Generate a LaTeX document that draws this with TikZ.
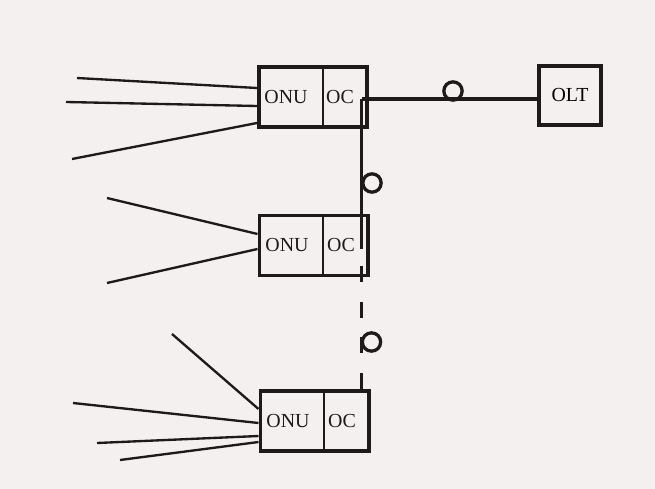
\documentclass[tikz,border=0pt]{standalone}
\usepackage{fontspec}
\setmainfont{Liberation Serif}
\usetikzlibrary{calc}
\definecolor{carta}{RGB}{244,240,240}
\definecolor{inchiostro}{RGB}{30,26,26}
\tikzset{
	unita/.style={draw=inchiostro,line width=3.4pt,minimum width=3.24cm,minimum height=1.8cm,inner sep=0pt},
	terminale/.style={draw=inchiostro,line width=3.4pt,minimum width=1.86cm,minimum height=1.77cm,inner sep=0pt,font=\fontsize{17}{20}\selectfont},
	etichetta/.style={inner sep=0pt,text=inchiostro,font=\fontsize{17}{20}\selectfont},
	anello/.style={circle,draw=inchiostro,line width=2.8pt,minimum size=0.55cm,inner sep=0pt},
	filo/.style={draw=inchiostro,line width=2pt},
	fibra/.style={draw=inchiostro,line width=3pt}
}
\begin{document}
\begin{tikzpicture}[x=0.03cm,y=-0.03cm]
	\fill[carta] (0,0) rectangle (655,489);
	\useasboundingbox (0,0) rectangle (655,489);

	% Le tre unita' ONU/OC
	\node[unita] (u1) at (313,97) {};
	\node[unita] (u2) at (313.5,245.5) {};
	\node[unita] (u3) at (314.5,421) {};
	\draw[inchiostro,line width=1.7pt] (322.5,0 |- u1.north) -- (322.5,0 |- u1.south); % divisore
	\draw[inchiostro,line width=1.7pt] (323,0 |- u2.north) -- (323,0 |- u2.south);
	\draw[inchiostro,line width=1.7pt] (323.5,0 |- u3.north) -- (323.5,0 |- u3.south);
	\node[etichetta] (onu1) at (286,97) {ONU};
	\node[etichetta] (oc1) at (340,97) {OC};
	\node[etichetta] (onu2) at (287,245) {ONU};
	\node[etichetta] (oc2) at (341,245) {OC};
	\node[etichetta] (onu3) at (288,421) {ONU};
	\node[etichetta] (oc3) at (342,421) {OC};

	% Terminale di linea
	\node[terminale] (olt) at (570,95.5) {OLT};

	% Fibra principale e derivazione verticale
	\coordinate (giunto) at (361.5,99);
	\draw[fibra] (giunto) -- (olt.west |- giunto);
	\node[anello] (a1) at (453,91) {};
	\draw[fibra] (giunto) -- (361.5,249);
	\draw[fibra] (361.5,266) -- (361.5,282);
	\node[anello] (a2) at (372,183) {};
	\draw[fibra] (361.5,302) -- (361.5,318); % tratto interrotto
	\draw[fibra] (361.5,337) -- (361.5,353);
	\node[anello] (a3) at (371.5,342) {};
	\draw[fibra] (361.5,373) -- (u3.north -| 361.5,0);

	% Linee d'utente della prima unita'
	\coordinate (f11) at (77,78);
	\coordinate (f12) at (66,102);
	\coordinate (f13) at (72,159);
	\draw[filo] (f11) -- ($(u1.west)+(0,-9)$);
	\draw[filo] (f12) -- ($(u1.west)+(0,9)$);
	\draw[filo] (f13) -- ($(u1.west)+(0,26)$);

	% Seconda unita'
	\coordinate (f21) at (107,198);
	\coordinate (f22) at (107,283);
	\draw[filo] (f21) -- ($(u2.west)+(0,-11.5)$);
	\draw[filo] (f22) -- ($(u2.west)+(0,3.5)$);

	% Terza unita'
	\coordinate (f31) at (172,334);
	\coordinate (f32) at (73,403);
	\coordinate (f33) at (97,443);
	\coordinate (f34) at (120,460);
	\draw[filo] (f31) -- ($(u3.west)+(0,-12)$);
	\draw[filo] (f32) -- ($(u3.west)+(0,2)$);
	\draw[filo] (f33) -- ($(u3.west)+(0,15)$);
	\draw[filo] (f34) -- ($(u3.west)+(0,21)$);
\end{tikzpicture}
\end{document}
